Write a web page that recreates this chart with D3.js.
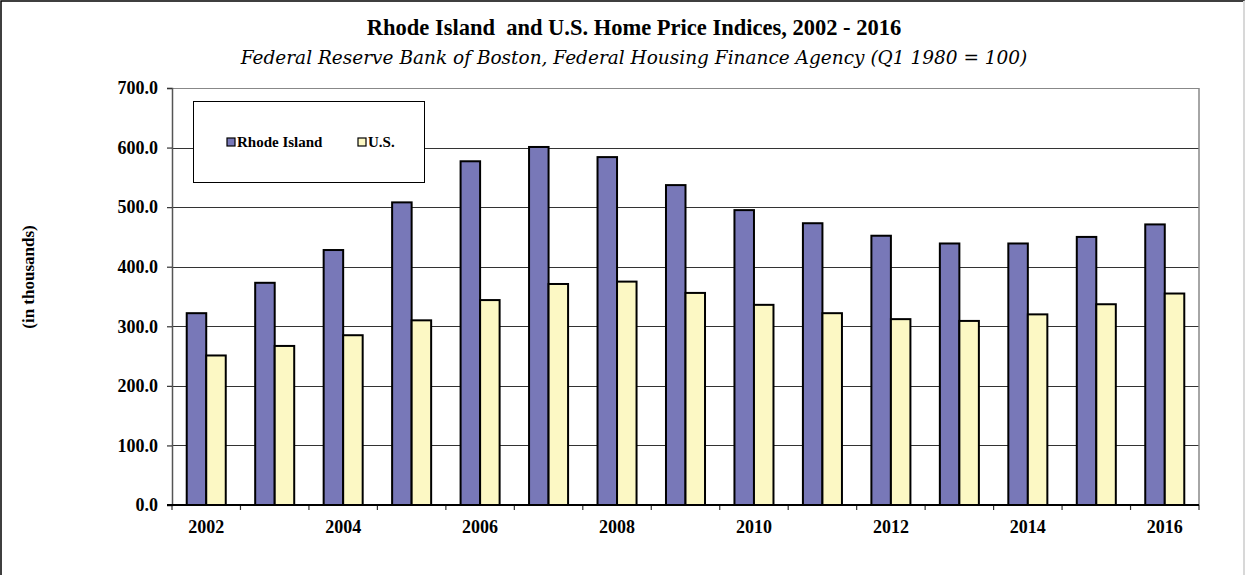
<!DOCTYPE html>
<html>
<head>
<meta charset="utf-8">
<script src="https://cdn.jsdelivr.net/npm/d3@7"></script>
<style>
  body { margin: 0; background: #fff; }
  svg { display: block; font-family: "Liberation Serif", "Times New Roman", serif; }
</style>
</head>
<body>
<div id="chart"></div>
<script>
'use strict';

var years = [2002, 2003, 2004, 2005, 2006, 2007, 2008, 2009, 2010, 2011, 2012, 2013, 2014, 2015, 2016];
var rhodeIsland = [322, 373, 428, 508, 577, 601, 584, 537, 495, 473, 452, 439, 439, 450, 471];
var us = [251, 267, 285, 310, 344, 371, 375, 356, 336, 322, 312, 309, 320, 337, 355];
var seriesNames = ['Rhode Island', 'U.S.'];
var seriesColors = ['#7878b8', '#fcf8c4'];
var yTicks = [0, 100, 200, 300, 400, 500, 600, 700];

var width = 1246, height = 575;
var margin = { top: 88, right: 47, bottom: 70, left: 172 };

var svg = d3.select('#chart').append('svg')
	.attr('width', width)
	.attr('height', height);

// outer frame
svg.append('rect')
	.attr('x', 1).attr('y', 1)
	.attr('width', width - 3).attr('height', height + 5)
	.attr('fill', 'none').attr('stroke', '#000').attr('stroke-width', 1.5);
svg.append('line')
	.attr('x1', width - 2).attr('x2', width - 2).attr('y1', 1).attr('y2', height)
	.attr('stroke', '#d8d8d8').attr('stroke-width', 2);

var x = d3.scaleBand()
	.domain(years)
	.range([margin.left, width - margin.right])
	.paddingInner(0.43)
	.paddingOuter(0.215);

var y = d3.scaleLinear()
	.domain([0, 700])
	.range([height - margin.bottom, margin.top]);

var inner = d3.scaleBand()
	.domain(seriesNames)
	.range([0, x.bandwidth()]);

// gridlines
svg.append('g')
	.selectAll('line')
	.data(yTicks.slice(1))
	.enter()
	.append('line')
	.attr('x1', margin.left).attr('x2', width - margin.right)
	.attr('y1', function (d) { return Math.round(y(d)) + 0.5; })
	.attr('y2', function (d) { return Math.round(y(d)) + 0.5; })
	.attr('stroke', function (d) { return d === 700 ? '#888' : '#333'; })
	.attr('stroke-width', 1.2);

// right border of plot area
svg.append('line')
	.attr('x1', width - margin.right).attr('x2', width - margin.right)
	.attr('y1', margin.top).attr('y2', y(0))
	.attr('stroke', '#888').attr('stroke-width', 1.5);

// bars
var groups = svg.append('g')
	.selectAll('g')
	.data(years)
	.enter()
	.append('g')
	.attr('transform', function (d) { return 'translate(' + x(d) + ',0)'; });

groups.selectAll('rect')
	.data(function (d, i) {
		return [
			{ name: seriesNames[0], value: rhodeIsland[i], color: seriesColors[0] },
			{ name: seriesNames[1], value: us[i], color: seriesColors[1] }
		];
	})
	.enter()
	.append('rect')
	.attr('x', function (d) { return inner(d.name); })
	.attr('y', function (d) { return y(d.value); })
	.attr('width', inner.bandwidth())
	.attr('height', function (d) { return y(0) - y(d.value); })
	.attr('fill', function (d) { return d.color; })
	.attr('stroke', '#000')
	.attr('stroke-width', 2);

// y axis
var yAxis = svg.append('g')
	.attr('transform', 'translate(' + margin.left + ',0)')
	.call(d3.axisLeft(y).tickValues(yTicks).tickFormat(d3.format('.1f')).tickSize(5).tickPadding(9));
yAxis.select('.domain').attr('stroke', '#555').attr('stroke-width', 1.5);
yAxis.selectAll('.tick line').attr('stroke', '#333').attr('stroke-width', 1.2);
yAxis.selectAll('text')
	.attr('font-size', 18).attr('font-weight', 'bold').attr('fill', '#000')
	.attr('font-family', '"Liberation Serif", serif');

// x axis: ticks at category boundaries, labels on even years
var xAxisG = svg.append('g');
var boundaries = d3.range(years.length + 1).map(function (i) {
	return margin.left + i * (width - margin.left - margin.right) / years.length;
});
xAxisG.selectAll('line.tick')
	.data(boundaries)
	.enter()
	.append('line')
	.attr('x1', function (d) { return d; }).attr('x2', function (d) { return d; })
	.attr('y1', y(0)).attr('y2', y(0) + 5)
	.attr('stroke', '#333').attr('stroke-width', 1.2);
xAxisG.append('line')
	.attr('x1', margin.left - 5).attr('x2', width - margin.right)
	.attr('y1', y(0)).attr('y2', y(0))
	.attr('stroke', '#000').attr('stroke-width', 2);
xAxisG.selectAll('text')
	.data(years.filter(function (d) { return d % 2 === 0; }))
	.enter()
	.append('text')
	.attr('x', function (d) { return x(d) + x.bandwidth() / 2; })
	.attr('y', 533)
	.attr('text-anchor', 'middle')
	.attr('font-size', 18).attr('font-weight', 'bold')
	.text(function (d) { return d; });

// titles
svg.append('text')
	.attr('x', 634).attr('y', 35)
	.attr('text-anchor', 'middle')
	.attr('font-size', 22.5).attr('font-weight', 'bold')
	.attr('xml:space', 'preserve')
	.text('Rhode Island  and U.S. Home Price Indices, 2002 - 2016');
svg.append('text')
	.attr('x', 634).attr('y', 64)
	.attr('text-anchor', 'middle')
	.attr('font-size', 18.5).attr('font-style', 'italic')
	.attr('font-family', '"DejaVu Serif", serif')
	.text('Federal Reserve Bank of Boston, Federal Housing Finance Agency (Q1 1980 = 100)');

svg.append('text')
	.attr('transform', 'translate(34,277) rotate(-90)')
	.attr('text-anchor', 'middle')
	.attr('font-size', 17).attr('font-weight', 'bold')
	.text('(in thousands)');

// legend
var legend = svg.append('g');
legend.append('rect')
	.attr('x', 193.5).attr('y', 101.5)
	.attr('width', 231).attr('height', 81)
	.attr('fill', '#fff').attr('stroke', '#000').attr('stroke-width', 1);
var legendX = [227, 358];
seriesNames.forEach(function (name, i) {
	legend.append('rect')
		.attr('x', legendX[i]).attr('y', 138)
		.attr('width', 8).attr('height', 8)
		.attr('fill', seriesColors[i]).attr('stroke', '#000').attr('stroke-width', 1.2);
	legend.append('text')
		.attr('x', legendX[i] + 10).attr('y', 147)
		.attr('font-size', 15).attr('font-weight', 'bold')
		.text(name);
});
</script>
</body>
</html>
